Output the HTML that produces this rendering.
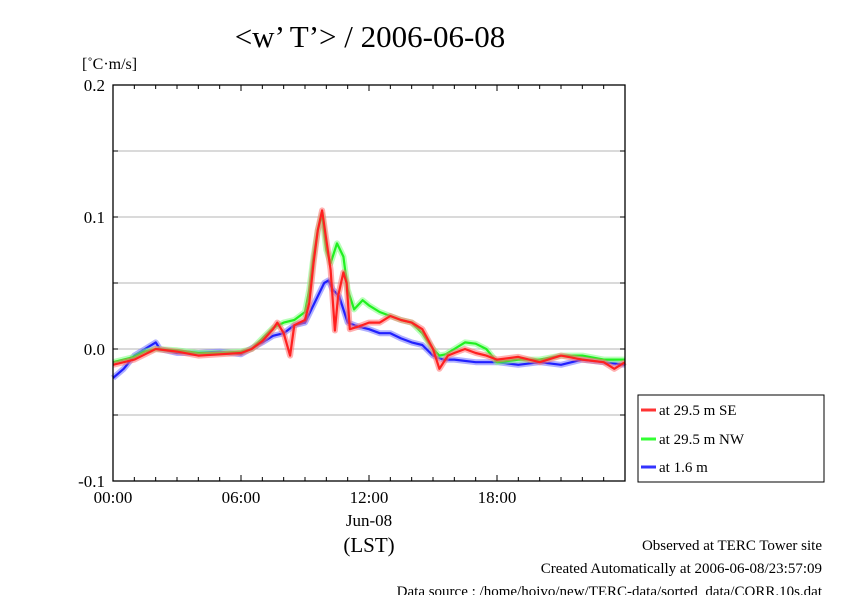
<!DOCTYPE html>
<html><head><meta charset="utf-8"><style>
body{margin:0;background:#fff}
svg text{font-family:"Liberation Serif",serif;fill:#000}
</style></head><body>
<svg id="chart" width="842" height="595" xmlns="http://www.w3.org/2000/svg">
<rect width="842" height="595" fill="#fff"/>
<text x="370" y="47" font-size="31" text-anchor="middle">&lt;w’ T’&gt; / 2006-06-08</text>
<text x="82" y="69" font-size="16">[˚C·m/s]</text>
<g id="grid"></g><g id="series"></g><g id="axes"></g>
<g>
<rect x="638" y="395" width="186" height="87" fill="#fff" stroke="#000" stroke-width="1"/>
<g><line x1="641" y1="410" x2="656" y2="410" stroke="#f33" stroke-width="3"/><text x="659" y="415" font-size="15">at 29.5 m SE</text></g>
<g><line x1="641" y1="439" x2="656" y2="439" stroke="#3f3" stroke-width="3"/><text x="659" y="444" font-size="15">at 29.5 m NW</text></g>
<g><line x1="641" y1="467" x2="656" y2="467" stroke="#33f" stroke-width="3"/><text x="659" y="472" font-size="15">at 1.6 m</text></g>
</g>
<text x="369" y="526" font-size="17" text-anchor="middle">Jun-08</text>
<text x="369" y="552" font-size="21" text-anchor="middle">(LST)</text>
<text x="822" y="550" font-size="15" text-anchor="end">Observed at TERC Tower site</text>
<text x="822" y="573" font-size="15" text-anchor="end">Created Automatically at 2006-06-08/23:57:09</text>
<text x="822" y="596" font-size="15" text-anchor="end">Data source : /home/hoivo/new/TERC-data/sorted_data/CORR.10s.dat</text>
</svg>
<script>
const yTicks=[0.2,0.1,0.0,-0.1];
const yTickLabels=["0.2","0.1","0.0","-0.1"];
const gridVals=[0.15,0.1,0.05,0,-0.05];
const xTicks=[0,6,12,18];
const xTickLabels=["00:00","06:00","12:00","18:00"];
const seHours=[0,1,1.5,2,3,4,5,6,6.5,7,7.5,7.7,8,8.3,8.5,9,9.2,9.4,9.6,9.8,10.2,10.4,10.55,10.8,10.95,11.1,11.5,12,12.5,13,13.5,14,14.5,15,15.3,15.7,16,16.5,17,17.5,18,19,20,21,22,23,23.5,24];
const seVals=[-0.012,-0.008,-0.004,0.0,-0.002,-0.005,-0.004,-0.003,0.0,0.006,0.015,0.02,0.012,-0.005,0.018,0.022,0.035,0.065,0.09,0.105,0.06,0.014,0.04,0.058,0.05,0.015,0.017,0.02,0.02,0.025,0.022,0.02,0.015,0.0,-0.015,-0.005,-0.003,0.0,-0.003,-0.005,-0.008,-0.006,-0.01,-0.005,-0.008,-0.01,-0.015,-0.01];
const nwHours=[0,1,1.5,2,3,4,5,6,6.5,7,7.5,8,8.5,9,9.2,9.4,9.6,9.8,10,10.2,10.5,10.8,11,11.3,11.7,12,12.5,13,13.5,14,14.5,15,15.3,15.6,16,16.5,17,17.5,18,19,20,21,22,23,24];
const nwVals=[-0.01,-0.006,-0.002,0.0,-0.001,-0.003,-0.003,-0.002,0.0,0.008,0.016,0.02,0.022,0.028,0.045,0.07,0.09,0.102,0.075,0.065,0.08,0.07,0.045,0.03,0.037,0.033,0.028,0.025,0.022,0.02,0.012,0.0,-0.005,-0.004,0.0,0.005,0.004,0.0,-0.01,-0.008,-0.008,-0.005,-0.005,-0.008,-0.008];
const blHours=[0,0.5,1,1.5,2,2.2,3,4,5,6,7,7.5,8,8.5,9,9.3,9.6,9.9,10.1,10.3,10.6,11,11.5,12,12.5,13,13.5,14,14.5,15,15.5,16,17,18,19,20,21,22,23,24];
const blVals=[-0.022,-0.015,-0.005,0.0,0.005,0.0,-0.003,-0.003,-0.002,-0.004,0.005,0.01,0.012,0.018,0.02,0.03,0.04,0.05,0.052,0.045,0.04,0.02,0.017,0.015,0.012,0.012,0.008,0.005,0.003,-0.005,-0.008,-0.008,-0.01,-0.01,-0.012,-0.01,-0.012,-0.008,-0.01,-0.012];
const X0=113,X1=625,Y0=481,Y1=85,VMIN=-0.1,VMAX=0.2;
const xs=h=>X0+h/24*(X1-X0);
const ys=v=>Y0-(v-VMIN)/(VMAX-VMIN)*(Y0-Y1);
const NS="http://www.w3.org/2000/svg";
function mk(tag,attrs,parent){const e=document.createElementNS(NS,tag);for(const k in attrs)e.setAttribute(k,attrs[k]);parent.appendChild(e);return e;}
const grid=document.getElementById('grid'),axes=document.getElementById('axes'),series=document.getElementById('series');
gridVals.forEach(v=>{const l=mk('line',{x1:X0,x2:X1,y1:ys(v),y2:ys(v),stroke:'#b4b4b4','stroke-width':1},grid);

});
const frame=mk('rect',{x:X0,y:Y1,width:X1-X0,height:Y0-Y1,fill:'none',stroke:'#000','stroke-width':1.3},axes);


for(let h=1;h<24;h++){const len=h%6==0?6:4;
mk('line',{x1:xs(h),x2:xs(h),y1:Y0,y2:Y0-len,stroke:'#000'},axes);
mk('line',{x1:xs(h),x2:xs(h),y1:Y1,y2:Y1+len,stroke:'#000'},axes);}
for(let v=-0.05;v<0.2;v+=0.05){mk('line',{x1:X0,x2:X0+5,y1:ys(v),y2:ys(v),stroke:'#000'},axes);mk('line',{x1:X1,x2:X1-5,y1:ys(v),y2:ys(v),stroke:'#000'},axes);}
yTicks.forEach((v,i)=>{const t=mk('text',{x:X0-8,y:ys(v)+6,'font-size':17,'text-anchor':'end'},axes);t.textContent=yTickLabels[i];

});
xTicks.forEach((h,i)=>{const t=mk('text',{x:xs(h),y:503,'font-size':17,'text-anchor':'middle'},axes);t.textContent=xTickLabels[i];

});
function draw(hours,vals,col,halo,name){const d=hours.map((h,i)=>(i?'L':'M')+xs(h).toFixed(1)+','+ys(vals[i]).toFixed(1)).join('');
const g=mk('g',{},series);


mk('path',{d:d,fill:'none',stroke:halo,'stroke-width':6,'stroke-linejoin':'round','stroke-opacity':0.55},g);
mk('path',{d:d,fill:'none',stroke:col,'stroke-width':2.2,'stroke-linejoin':'round'},g);}
draw(blHours,blVals,'#2020ff','#7070ff','series-1-6m');
draw(nwHours,nwVals,'#20f020','#80ff80','series-29-5m-nw');
draw(seHours,seVals,'#ff2020','#ff7070','series-29-5m-se');
</script>
</body></html>
